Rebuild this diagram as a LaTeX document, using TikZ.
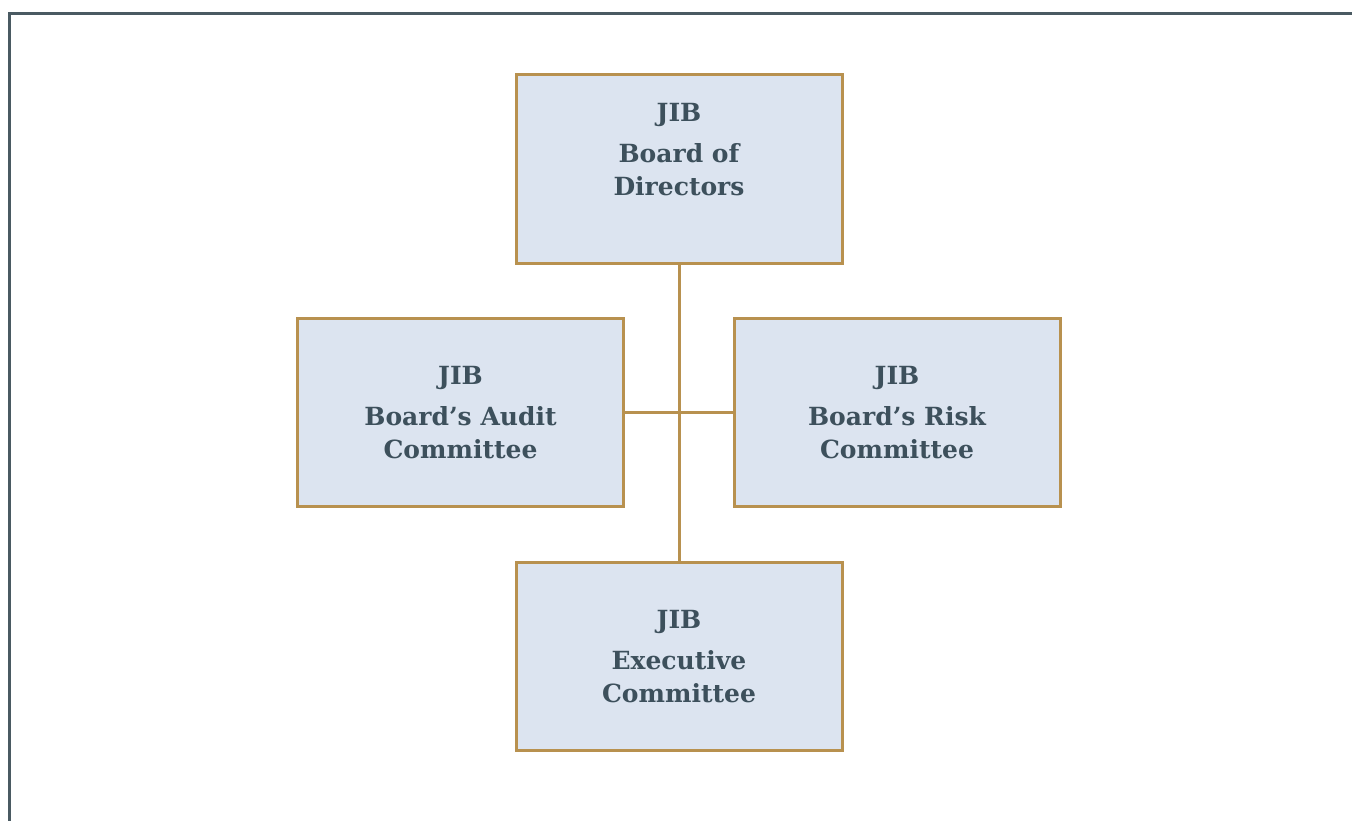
\documentclass[tikz,border=0pt]{standalone}
\usepackage{fontspec}
\setmainfont{DejaVu Serif}
\definecolor{boxfill}{HTML}{DCE4F0}
\definecolor{gold}{HTML}{B8914F}
\definecolor{ink}{HTML}{3D505C}
\definecolor{framec}{HTML}{4A5A62}
\begin{document}
\begin{tikzpicture}[x=1pt,y=-1pt,
  orgbox/.style={draw=gold, fill=boxfill, line width=3pt, minimum width=326pt, minimum height=188pt, inner sep=0pt},
  txt/.style={text=ink, font=\bfseries\fontsize{25}{33}\selectfont, align=center, inner sep=0pt},
  conn/.style={draw=gold, line width=3pt}]
\useasboundingbox (0,0) rectangle (1352,821);
\draw[framec, line width=3pt] (9,821) -- (9,14) -- (1352,14);
\node[orgbox] (top) at (679,169) {};
\node[orgbox] (left) at (460.5,412.5) {};
\node[orgbox] (right) at (897,412.5) {};
\node[orgbox] (bottom) at (679,656.5) {};
\node[txt, anchor=base] (toptxt) at (679,196) {JIB\\[8.6pt]Board of\\Directors};
\node[txt] (lefttxt) at (left.center) {JIB\\[8.6pt]Board’s Audit\\Committee};
\node[txt] (righttxt) at (right.center) {JIB\\[8.6pt]Board’s Risk\\Committee};
\node[txt] (bottomtxt) at (bottom.center) {JIB\\[8.6pt]Executive\\Committee};
\draw[conn] (top.south) -- (bottom.north);
\draw[conn] (left.east) -- (right.west);
\end{tikzpicture}
\end{document}
